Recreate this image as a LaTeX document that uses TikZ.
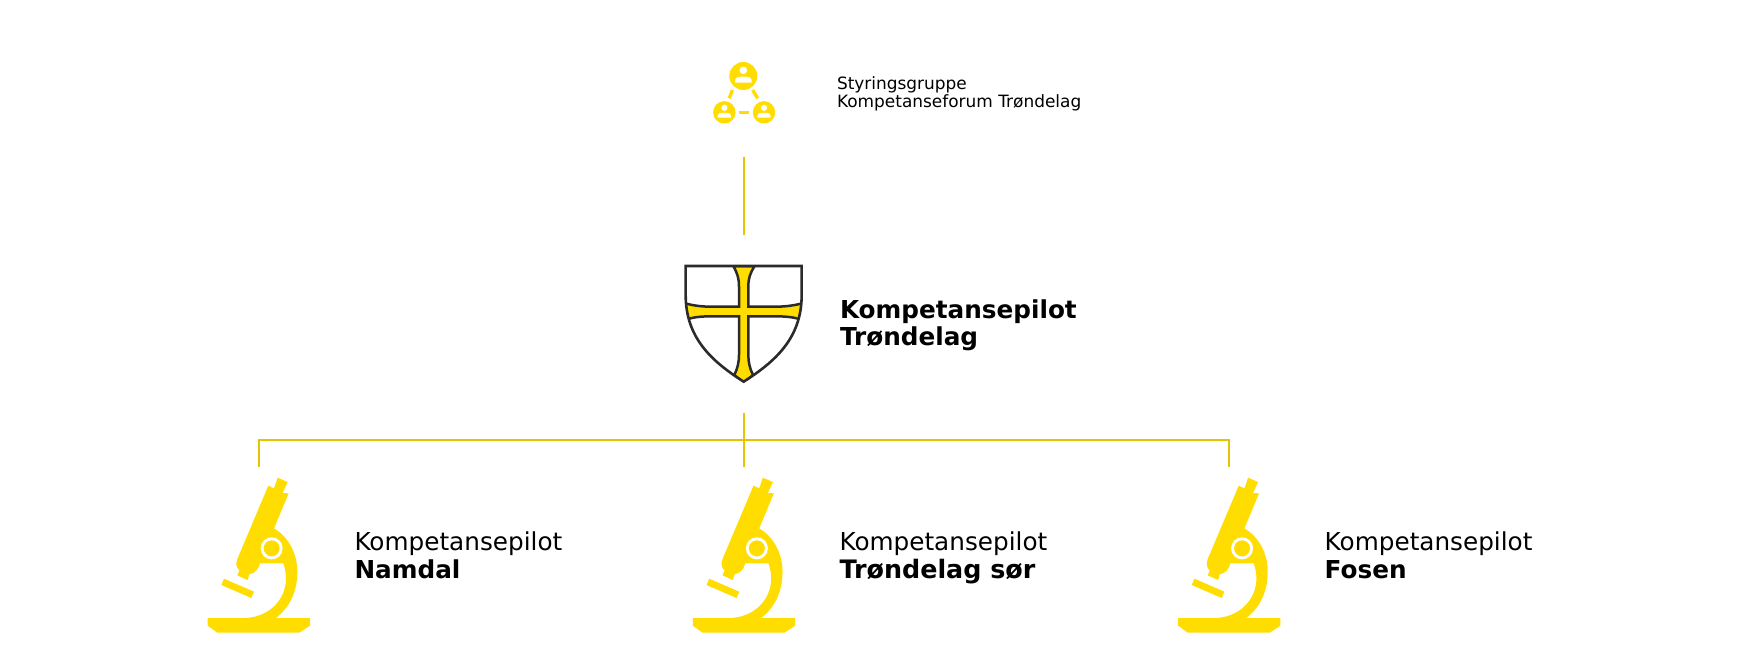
\documentclass[tikz,border=0pt]{standalone}
\usepackage{fontspec}
\setmainfont{DejaVu Sans}
\definecolor{ylw}{HTML}{FFDD00}
\definecolor{lineylw}{HTML}{E6C400}
\definecolor{shieldline}{HTML}{2B2B2B}
\tikzset{
  conn/.style={draw=lineylw,line width=2pt},
  small/.style={anchor=base west,inner sep=0pt,outer sep=0pt,font=\fontsize{16.95}{18}\selectfont},
  regular/.style={anchor=base west,inner sep=0pt,outer sep=0pt,font=\fontsize{24.7}{26}\selectfont},
  heavy/.style={anchor=base west,inner sep=0pt,outer sep=0pt,font=\fontsize{24.7}{26}\selectfont\bfseries},
  person/.pic={
    \fill[ylw] (0,0) circle (42);
    \fill[white] (0,-17) circle (11.5);
    \fill[white] (-25,20) -- (-25,12) .. controls (-25,5) and (-16,2) .. (-8,2) -- (8,2) .. controls (16,2) and (25,5) .. (25,12) -- (25,20) -- cycle;
  },
  microscope/.pic={
    \fill[ylw] (233,38) -- (263,51) -- (248,84) -- (266,85) -- (222,190)
      .. controls (265,215) and (292,265) .. (292,320)
      .. controls (292,385) and (265,430) .. (228,459)
      -- (330,459) -- (330,482) -- (298,503) -- (52,503) -- (23,482) -- (23,459) -- (130,459)
      .. controls (205,459) and (258,405) .. (258,340)
      .. controls (258,325) and (255,310) .. (250,295)
      -- (180,295) .. controls (176,312) and (165,325) .. (148,328)
      -- (143,345) -- (112,331) -- (118,316)
      .. controls (108,308) and (107,295) .. (112,282)
      -- (205,62) -- (222,70) -- cycle;
    \fill[ylw] (72,341) -- (162,380) -- (154,399) -- (64,360) -- cycle;
    \fill[white] (215,250) circle (33);
    \fill[ylw] (215,250) circle (24);
  }
}
\begin{document}
\begin{tikzpicture}[x=1pt,y=-1pt]
\useasboundingbox (0,0) rectangle (1753,649);
% group icon
\begin{scope}[shift={(700,50)},scale=1/3]
  \pic[scale=1/3] at (130,78) {person};
  \pic[scale=.8/3] at (73,187) {person};
  \pic[scale=.8/3] at (192,187) {person};
  \draw[ylw,line width=3.4pt] (97,120) -- (88,145);
  \draw[ylw,line width=3.4pt] (158,120) -- (173,145);
  \draw[ylw,line width=3.4pt] (118,187) -- (146,187);
\end{scope}
% shield
\begin{scope}[shift={(675,255)},scale=1/3]
  \path[fill=white] (32,33) -- (380,33) -- (380,120) .. controls (380,250) and (300,320) .. (206,380)
     .. controls (112,320) and (32,250) .. (32,120) -- cycle;
  \begin{scope}
    \clip (32,33) -- (380,33) -- (380,120) .. controls (380,250) and (300,320) .. (206,380)
     .. controls (112,320) and (32,250) .. (32,120) -- cycle;
    \draw[fill=ylw,draw=shieldline,line width=2.5pt]
      (175,33) .. controls (187,55) and (192,70) .. (192,95) -- (192,155)
      -- (110,155) .. controls (85,155) and (60,153) .. (30,145)
      -- (36,193) .. controls (60,185) and (85,184) .. (110,184) -- (192,184)
      -- (192,300) .. controls (192,320) and (188,340) .. (178,360)
      -- (206,385) -- (234,360) .. controls (224,340) and (220,320) .. (220,300)
      -- (220,184) -- (300,184) .. controls (325,184) and (350,185) .. (376,193)
      -- (382,145) .. controls (350,153) and (325,155) .. (300,155) -- (220,155)
      -- (220,95) .. controls (220,70) and (225,55) .. (239,33) -- cycle;
  \end{scope}
  \path[draw=shieldline,line width=2.6pt,line join=miter] (32,33) -- (380,33) -- (380,120) .. controls (380,250) and (300,320) .. (206,380)
     .. controls (112,320) and (32,250) .. (32,120) -- cycle;
\end{scope}
% microscopes
\pic at (200,465) [scale=1/3] {microscope};
\pic at (685.2,465) [scale=1/3] {microscope};
\pic at (1170.4,465) [scale=1/3] {microscope};
% connectors
\coordinate (topA) at (743.5,156.5);
\coordinate (topB) at (743.5,235);
\coordinate (trunkTop) at (743.5,413);
\coordinate (trunkBot) at (743.5,467);
\coordinate (bus) at (743.5,440);
\coordinate (dropL) at (258.8,467);
\coordinate (dropR) at (1228.7,467);
\draw[conn] (topA) -- (topB);
\draw[conn] (trunkTop) -- (trunkBot);
\draw[conn] (dropL) |- (bus) -| (dropR);
% labels
\node[small] (s1) at (837,89.5) {Styringsgruppe};
\node[small] (s2) at (837,107.7) {Kompetanseforum Trøndelag};
\node[heavy] (m1) at (840,318) {Kompetansepilot};
\node[heavy] (m2) at (840,345.5) {Trøndelag};
\node[regular] (a1) at (354.5,550) {Kompetansepilot};
\node[heavy] (a2) at (354.5,578) {Namdal};
\node[regular] (b1) at (839.5,550) {Kompetansepilot};
\node[heavy,font=\fontsize{25.4}{26}\selectfont\bfseries] (b2) at (839.5,578) {Trøndelag sør};
\node[regular] (c1) at (1324.7,550) {Kompetansepilot};
\node[heavy] (c2) at (1324.7,578) {Fosen};
\end{tikzpicture}
\end{document}
